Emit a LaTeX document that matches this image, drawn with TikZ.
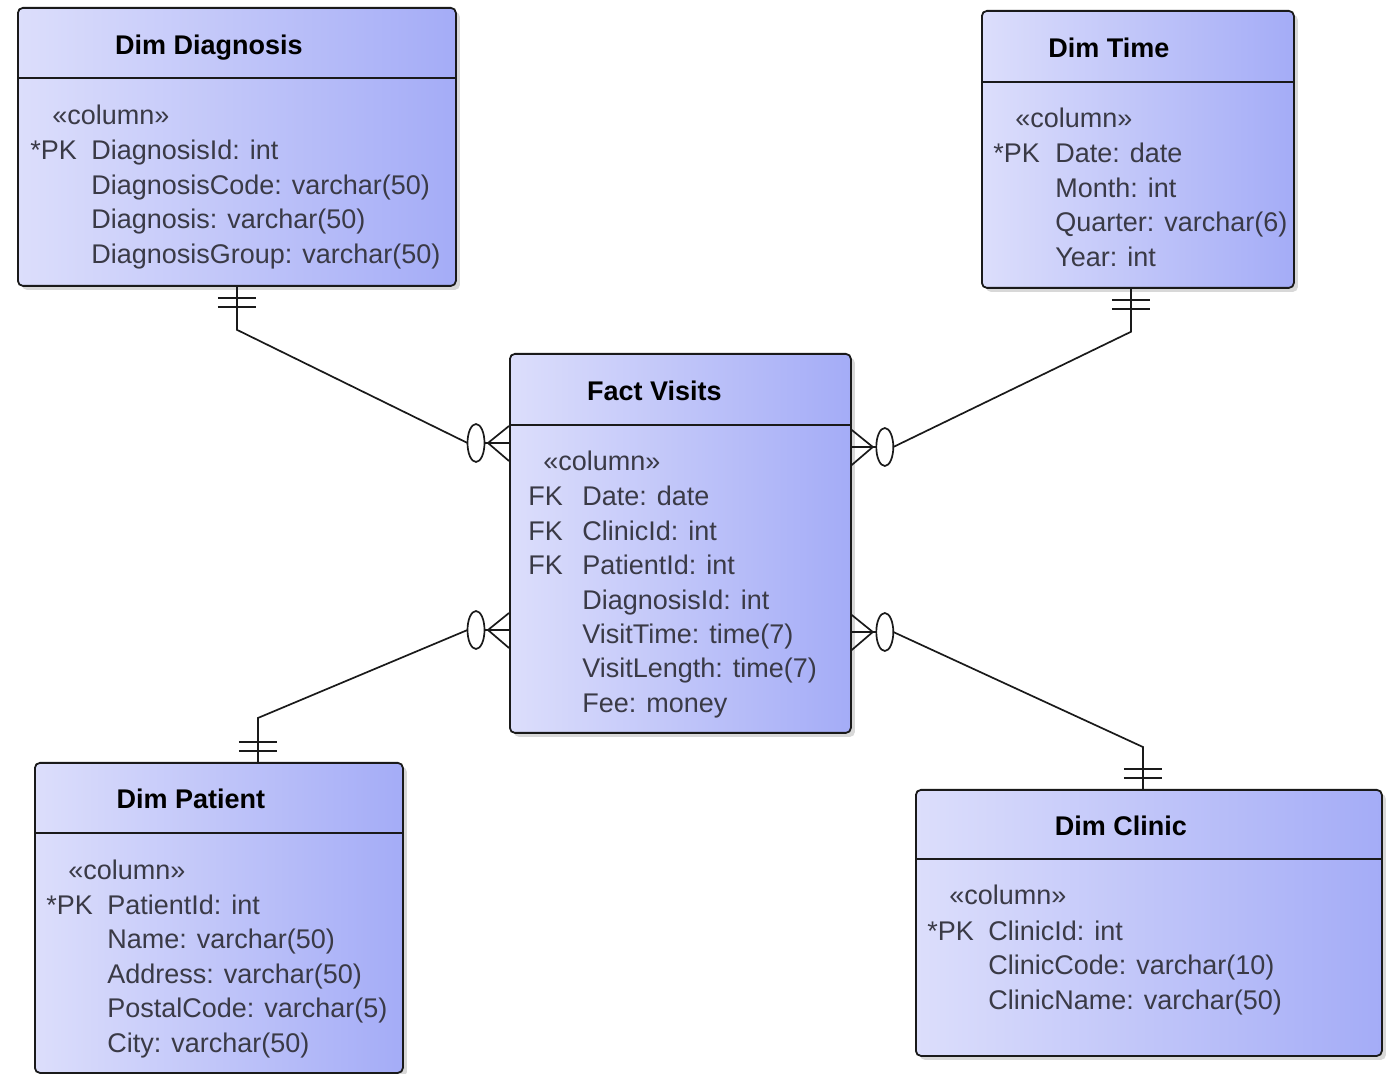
\documentclass[tikz,border=0pt]{standalone}
\usepackage{fontspec}
\setmainfont{Liberation Sans}
\usepackage{xcolor}
\usepackage{tikz}
\usetikzlibrary{calc,shadows}
\definecolor{boxleft}{HTML}{DCDEFB}
\definecolor{boxright}{HTML}{A4ACF7}
\definecolor{linedark}{HTML}{1A1A1A}
\definecolor{textgray}{HTML}{3A3A46}
\tikzset{
  tablebox/.style={draw=linedark,line width=0.9pt,rounded corners=2.5pt,
    left color=boxleft,right color=boxright,anchor=north west,inner sep=0pt,
    drop shadow={shadow xshift=2pt,shadow yshift=-2pt,fill=black!30}},
  divider/.style={draw=linedark,line width=0.9pt},
  tabletitle/.style={anchor=base,inner sep=0pt,text=black,font=\fontsize{13.5}{15}\selectfont\bfseries},
  stereo/.style={anchor=base west,inner sep=0pt,text=textgray,font=\fontsize{13.5}{15}\selectfont},
  keytag/.style={stereo},
  colrow/.style={stereo},
  conn/.style={draw=linedark,line width=0.85pt},
  oneend/.pic={\draw[conn] (-19,11) -- (19,11) (-19,20) -- (19,20);},
  manyend/.pic={\draw[conn] (-33,0) ellipse [x radius=4.25pt,y radius=9.5pt];
    \draw[conn] (-24.5,0) -- (0,0) (0,-17) -- (-21,0) -- (0,18);}
}

\begin{document}
\begin{tikzpicture}[x=0.5pt,y=-0.5pt]
  \useasboundingbox (0,0) rectangle (1388,1074);

  % Dim Diagnosis
  \node[tablebox,minimum width=219pt,minimum height=139pt] (diag) at (17,7) {};
  \draw[divider] ($(diag.north west)+(0,71)$) -- ($(diag.north east)+(0,71)$);
  \node[tabletitle] (diag-title) at ($(diag.north)+(-28,48)$) {Dim Diagnosis};
  \node[stereo] (diag-stereo) at ($(diag.north west)+(35,118)$) {«column»};
  \node[keytag] (diag-key) at ($(diag.north west)+(13,153)$) {*PK};
  \foreach \col [count=\i from 0] in {DiagnosisId: int,DiagnosisCode: varchar(50),
      Diagnosis: varchar(50),DiagnosisGroup: varchar(50)}
    \node[colrow] (diag-row\i) at ($(diag.north west)+(74,{153+34.4*\i})$) {\col};

  % Dim Time
  \node[tablebox,minimum width=156pt,minimum height=138.5pt] (time) at (981,10) {};
  \draw[divider] ($(time.north west)+(0,72)$) -- ($(time.north east)+(0,72)$);
  \node[tabletitle] (time-title) at ($(time.north)+(-29,48)$) {Dim Time};
  \node[stereo] (time-stereo) at ($(time.north west)+(34,118)$) {«column»};
  \node[keytag] (time-key) at ($(time.north west)+(12,153)$) {*PK};
  \foreach \col [count=\i from 0] in {Date: date,Month: int,Quarter: varchar(6),Year: int}
    \node[colrow] (time-row\i) at ($(time.north west)+(74,{153+34.4*\i})$) {\col};

  % Fact Visits
  \node[tablebox,minimum width=170.5pt,minimum height=189.5pt] (fact) at (509,353) {};
  \draw[divider] ($(fact.north west)+(0,72)$) -- ($(fact.north east)+(0,72)$);
  \node[tabletitle] (fact-title) at ($(fact.north)+(-26,48)$) {Fact Visits};
  \node[stereo] (fact-stereo) at ($(fact.north west)+(34,118)$) {«column»};
  \foreach \i in {0,1,2}
    \node[keytag] (fact-key\i) at ($(fact.north west)+(19,{153+34.4*\i})$) {FK};
  \foreach \col [count=\i from 0] in {Date: date,ClinicId: int,PatientId: int,DiagnosisId: int,
      VisitTime: time(7),VisitLength: time(7),Fee: money}
    \node[colrow] (fact-row\i) at ($(fact.north west)+(73,{153+34.4*\i})$) {\col};

  % Dim Patient
  \node[tablebox,minimum width=184pt,minimum height=155pt] (pat) at (34,762) {};
  \draw[divider] ($(pat.north west)+(0,71)$) -- ($(pat.north east)+(0,71)$);
  \node[tabletitle] (pat-title) at ($(pat.north)+(-28,47)$) {Dim Patient};
  \node[stereo] (pat-stereo) at ($(pat.north west)+(34,117)$) {«column»};
  \node[keytag] (pat-key) at ($(pat.north west)+(12,152)$) {*PK};
  \foreach \col [count=\i from 0] in {PatientId: int,Name: varchar(50),Address: varchar(50),
      PostalCode: varchar(5),City: varchar(50)}
    \node[colrow] (pat-row\i) at ($(pat.north west)+(73,{152+34.6*\i})$) {\col};

  % Dim Clinic
  \node[tablebox,minimum width=233pt,minimum height=133pt] (clinic) at (915,789) {};
  \draw[divider] ($(clinic.north west)+(0,70)$) -- ($(clinic.north east)+(0,70)$);
  \node[tabletitle] (clinic-title) at ($(clinic.north)+(-28,47)$) {Dim Clinic};
  \node[stereo] (clinic-stereo) at ($(clinic.north west)+(34,116)$) {«column»};
  \node[keytag] (clinic-key) at ($(clinic.north west)+(12,151)$) {*PK};
  \foreach \col [count=\i from 0] in {ClinicId: int,ClinicCode: varchar(10),ClinicName: varchar(50)}
    \node[colrow] (clinic-row\i) at ($(clinic.north west)+(73,{151+34.5*\i})$) {\col};

  % relations
  \coordinate (fact-l1) at ($(fact.north west)+(0,90)$);
  \coordinate (fact-r1) at ($(fact.north east)+(0,94)$);
  \coordinate (fact-l2) at ($(fact.north west)+(0,277)$);
  \coordinate (fact-r2) at ($(fact.north east)+(0,279)$);
  \coordinate (diag-end) at (diag.south);
  \coordinate (time-end) at ($(time.south)+(-7,0)$);
  \coordinate (pat-end) at ($(pat.north)+(39,0)$);
  \coordinate (clinic-end) at ($(clinic.north)+(-6,0)$);

  \draw[conn] (diag-end) -- ++(0,43) -- ($(fact-l1)+(-41.5,0)$);
  \pic at (diag-end) {oneend};
  \pic at (fact-l1) {manyend};

  \draw[conn] (time-end) -- ++(0,43) -- ($(fact-r1)+(41.5,0)$);
  \pic at (time-end) {oneend};
  \pic[xscale=-1] at (fact-r1) {manyend};

  \draw[conn] (pat-end) -- ++(0,-44) -- ($(fact-l2)+(-41.5,0)$);
  \pic[yscale=-1] at (pat-end) {oneend};
  \pic at (fact-l2) {manyend};

  \draw[conn] (clinic-end) -- ++(0,-42) -- ($(fact-r2)+(41.5,0)$);
  \pic[yscale=-1] at (clinic-end) {oneend};
  \pic[xscale=-1] at (fact-r2) {manyend};
\end{tikzpicture}
\end{document}
